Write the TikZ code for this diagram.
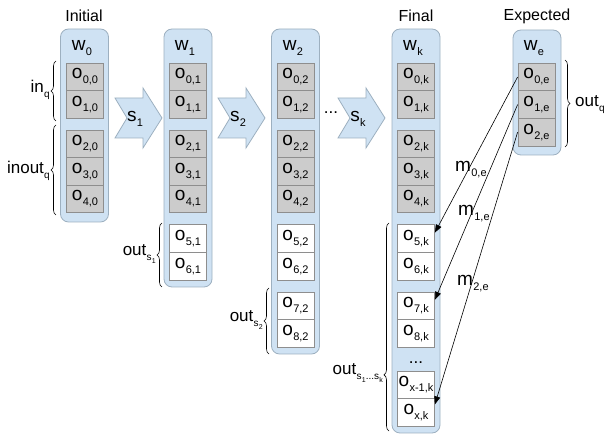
\documentclass[tikz,border=0pt]{standalone}
\usepackage{fontspec}
\setmainfont{Liberation Sans}
\usetikzlibrary{arrows.meta,decorations.pathreplacing,calc}
\definecolor{boxfill}{HTML}{CFE2F3}
\definecolor{boxline}{HTML}{9DB0C0}
\definecolor{cellgray}{HTML}{CCCCCC}
\definecolor{cellline}{HTML}{8E8E8E}
\newcommand\csub[2]{{\fontsize{19}{19}\selectfont #1}\kern0.3pt\raisebox{-5pt}{\fontsize{11}{11}\selectfont #2}}
\newcommand\lsub[2]{{\fontsize{17}{17}\selectfont #1}\kern0.3pt\raisebox{-5pt}{\fontsize{10}{10}\selectfont #2}}
\newcommand\ssub[1]{s\kern0.2pt\raisebox{-2.5pt}{\fontsize{7}{7}\selectfont #1}}
\begin{document}
\begin{tikzpicture}[x=1pt,y=-1pt,
  colbox/.style={draw=boxline,fill=boxfill,rounded corners=8pt,minimum width=48pt,inner sep=0pt,line width=0.8pt},
  gcell/.style={draw=cellline,fill=cellgray,minimum width=37pt,minimum height=27.6pt,inner sep=0pt,line width=0.8pt},
  wcell/.style={gcell,fill=white},
  sarrow/.style={draw=boxline,fill=boxfill,line width=0.8pt},
  marrow/.style={-{Triangle[length=8pt,width=6pt]},line width=0.6pt},
  bracestyle/.style={decorate,decoration={brace,amplitude=5pt},line width=0.6pt},
  toplabel/.style={font=\fontsize{16}{16}\selectfont,inner sep=0pt},
  lab/.style={inner sep=0pt}]
\useasboundingbox (0,0) rectangle (611,435);

% columns
\node[colbox,minimum height=193pt] (col0) at (84.5,125.5) {};
\node[colbox,minimum height=258pt] (col1) at (188,158) {};
\node[colbox,minimum height=325pt] (col2) at (295.5,191.5) {};
\node[colbox,minimum height=404pt] (colk) at (416,231) {};
\node[colbox,minimum height=125pt] (cole) at (537,92.5) {};

% top labels
\node[toplabel] (tinit) at (84,16) {Initial};
\node[toplabel] (tfinal) at (416,16) {Final};
\node[toplabel] (texp) at (537,16) {Expected};

% w labels
\node[lab] (w0) at (82,48) {\csub{w}{0}};
\node[lab] (w1) at (185,48) {\csub{w}{1}};
\node[lab] (w2) at (293,48) {\csub{w}{2}};
\node[lab] (wk) at (413,48) {\csub{w}{k}};
\node[lab] (we) at (534,48) {\csub{w}{e}};

% gray cells (rows 0..4) in columns 0,1,2,k
\foreach \c/\x in {0/85,1/188,2/295.5,k/416}{
  \foreach \r/\y in {0/76.8,1/104.4,2/143.8,3/171.4,4/199}{
    \node[gcell] (o\r-\c) at (\x,\y) {\csub{o}{\r,\c}};
  }
}
% white cells
\node[wcell] (o5-1) at (188,238.6) {\csub{o}{5,1}};
\node[wcell] (o6-1) at (188,266.2) {\csub{o}{6,1}};
\foreach \r/\y in {5/238.6,6/266.2,7/305.8,8/333.4}{
  \node[wcell] (o\r-2) at (295.5,\y) {\csub{o}{\r,2}};
  \node[wcell] (o\r-k) at (416,\y) {\csub{o}{\r,k}};
}
\node[lab,anchor=base] (dotsk) at (416,364) {\fontsize{17}{17}\selectfont ...};
\node[wcell] (oxm-k) at (416,384.8) {\csub{o}{x-1,k}};
\node[wcell] (ox-k) at (416,412.4) {\csub{o}{x,k}};

% expected cells
\node[gcell] (o0-e) at (536.5,77) {\csub{o}{0,e}};
\node[gcell] (o1-e) at (536.5,104.6) {\csub{o}{1,e}};
\node[gcell] (o2-e) at (536.5,132.2) {\csub{o}{2,e}};

% step arrows
\foreach \L/\t in {115/1,218/2,338/k}{
  \draw[sarrow] (\L,98) -- (\L+28,98) -- (\L+28,88) -- (\L+47,118) -- (\L+28,148) -- (\L+28,138) -- (\L,138) -- (\L+12,118) -- cycle;
  \node[lab] (s\t) at (\L+20,119) {\csub{s}{\t}};
}
\node[lab,anchor=base] (sdots) at (331,114) {\fontsize{17}{17}\selectfont ...};

% braces
\coordinate (bin1) at (56,121); \coordinate (bin2) at (56,61);
\draw[bracestyle] (bin1) -- (bin2);
\node[lab,anchor=east] (inq) at (50,90) {\lsub{in}{q}};
\coordinate (bio1) at (56,215); \coordinate (bio2) at (56,125);
\draw[bracestyle] (bio1) -- (bio2);
\node[lab,anchor=east] (inoutq) at (50,171) {\lsub{inout}{q}};
\coordinate (bs11) at (162,287); \coordinate (bs12) at (162,223);
\draw[bracestyle] (bs11) -- (bs12);
\node[lab,anchor=east] (outs1) at (156,254) {\lsub{out}{\ssub{1}}};
\coordinate (bs21) at (269,354); \coordinate (bs22) at (269,288);
\draw[bracestyle] (bs21) -- (bs22);
\node[lab,anchor=east] (outs2) at (263,320) {\lsub{out}{\ssub{2}}};
\coordinate (bsk1) at (389,431); \coordinate (bsk2) at (389,223);
\draw[decorate,decoration={brace,amplitude=5pt,aspect=0.27},line width=0.6pt] (bsk1) -- (bsk2);
\node[lab,anchor=east] (outsk) at (383,373) {\lsub{out}{\ssub{1}...\ssub{k}}};
\coordinate (bq1) at (565,60); \coordinate (bq2) at (565,147);
\draw[bracestyle] (bq1) -- (bq2);
\node[lab,anchor=west] (outq) at (575,105) {\lsub{out}{q}};

% mapping arrows
\draw[marrow] (o0-e.west) -- ([yshift=6pt]o5-k.east);
\draw[marrow] (o1-e.west) -- ([yshift=6pt]o7-k.east);
\draw[marrow] (o2-e.west) -- ([yshift=8pt]ox-k.east);
\node[lab,anchor=base west] (m0) at (455,172) {\csub{m}{0,e}};
\node[lab,anchor=base west] (m1) at (458,216) {\csub{m}{1,e}};
\node[lab,anchor=base west] (m2) at (457,286) {\csub{m}{2,e}};
\end{tikzpicture}
\end{document}
